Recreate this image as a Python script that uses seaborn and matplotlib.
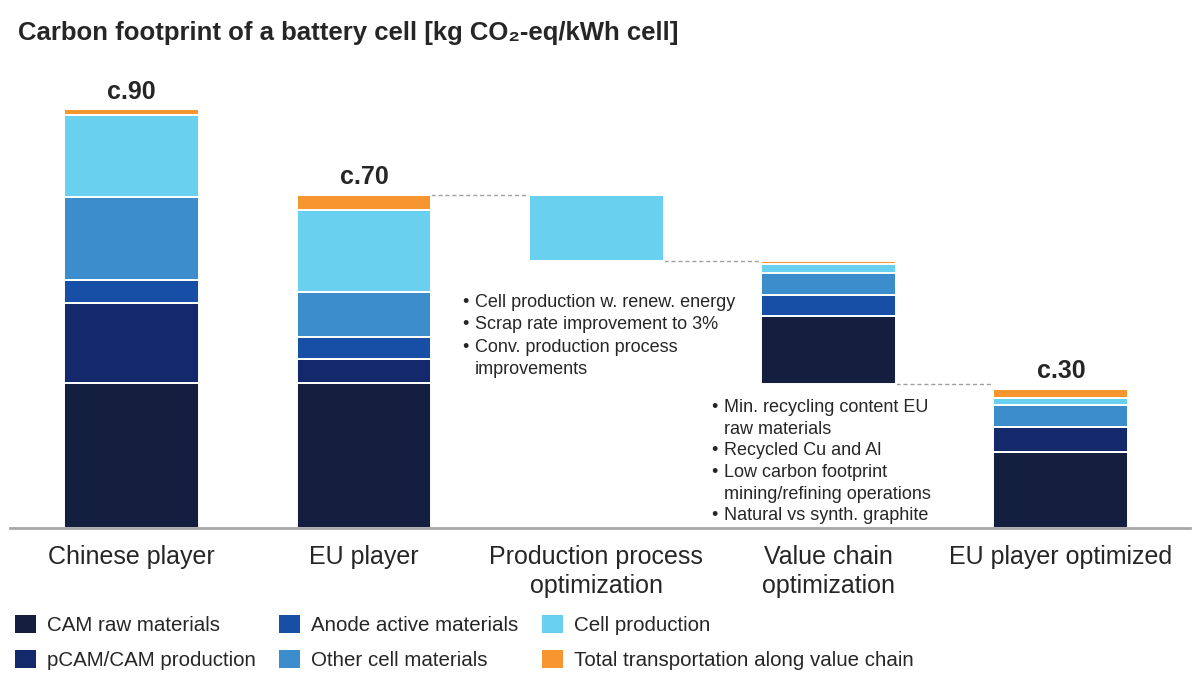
import numpy as np
import pandas as pd
import matplotlib
matplotlib.use("Agg")
import matplotlib.pyplot as plt
from matplotlib.patches import Patch
import seaborn as sns

# data (kg CO2-eq / kWh cell)
categories = ["Chinese player", "EU player", "Production process\noptimization",
              "Value chain\noptimization", "EU player optimized"]
components = ["CAM raw materials", "pCAM/CAM production", "Anode active materials",
              "Other cell materials", "Cell production", "Total transportation along value chain"]
cam_raw = [31.1, 31.1, 0.0, 14.6, 16.3]
pcam = [17.2, 5.1, 0.0, 0.0, 5.4]
anode = [4.9, 4.8, 0.0, 4.5, 0.0]
other = [17.8, 9.7, 0.0, 4.8, 4.8]
cell = [17.6, 17.5, 14.2, 1.8, 1.4]
transport = [1.3, 3.4, 0.0, 0.8, 2.0]
total_labels = ["c.90", "c.70", "", "", "c.30"]

colors = ["#141f40", "#14296c", "#174ea6", "#3b8dcb", "#69d0f0", "#f7962f"]

sns.set_theme(style="white")
plt.rcParams["font.family"] = ["Liberation Sans", "DejaVu Sans"]

series = [cam_raw, pcam, anode, other, cell, transport]
data = np.array(series)
totals = data.sum(axis=0)

# waterfall: the two optimization bars float below the previous level
base = np.zeros(len(categories))
base[2] = totals[1] - totals[2]
base[3] = base[2] - totals[3]

fig = plt.figure(figsize=(12, 6.79), dpi=100)
ax = fig.add_axes([10 / 1200, 0.2224, 1180 / 1200, 0.6857])

bar_w = 0.58
bottom = base.copy()
for name, vals, col in zip(components, series, colors):
    df = pd.DataFrame({"category": categories, "value": vals})
    sns.barplot(data=df, x="category", y="value", order=categories, bottom=bottom,
                color=col, width=bar_w, edgecolor="white", linewidth=1.4,
                saturation=1, ax=ax)
    bottom = bottom + np.array(vals)

tops = base + totals

# dashed connectors between bars
levels = [tops[1], base[2], base[3]]
for i, lvl in zip([1, 2, 3], levels):
    ax.plot([i + bar_w / 2, i + 1 - bar_w / 2], [lvl, lvl], ls=(0, (3, 2)),
            color="#a0a0a0", lw=1.0, zorder=0)

for i, lab in enumerate(total_labels):
    if lab:
        ax.annotate(lab, (i, tops[i]), xytext=(0, 4), textcoords="offset points",
                    ha="center", va="bottom", fontsize=18, fontweight="bold",
                    color="#262626")

ax.set_xlim(-0.524, 4.556)
ax.set_ylim(0, 100)
ax.set_yticks([])
ax.set_ylabel("")
ax.set_xlabel("")
ax.set_xticks(range(len(categories)))
ax.set_xticklabels(categories, fontsize=18, color="#262626", linespacing=1.3)
ax.tick_params(axis="x", length=0, pad=12)
for s in ["top", "right", "left"]:
    ax.spines[s].set_visible(False)
ax.spines["bottom"].set_color("#a8a8a8")
ax.spines["bottom"].set_linewidth(2)

# annotations
note1 = ["Cell production w. renew. energy", "Scrap rate improvement to 3%",
         "Conv. production process", "improvements"]
bul1 = "\u2022\n\u2022\n\u2022\n "
note2 = ["Min. recycling content EU", "raw materials", "Recycled Cu and Al",
         "Low carbon footprint", "mining/refining operations", "Natural vs synth. graphite"]
bul2 = "\u2022\n \n\u2022\n\u2022\n \n\u2022"
kw = dict(fontsize=13, color="#262626", va="top")
fig.text(462 / 1200, 1 - 294 / 679, bul1, linespacing=1.42, **kw)
fig.text(475 / 1200, 1 - 294 / 679, "\n".join(note1), linespacing=1.42, **kw)
fig.text(711 / 1200, 1 - 399 / 679, bul2, linespacing=1.36, **kw)
fig.text(724 / 1200, 1 - 399 / 679, "\n".join(note2), linespacing=1.36, **kw)

fig.text(18 / 1200, 1 - 33 / 679, "Carbon footprint of a battery cell [kg CO\u2082-eq/kWh cell]",
         fontsize=18.5, fontweight="bold", color="#262626", va="center")

handles = [Patch(facecolor=c, edgecolor="none") for c in colors]
fig.legend(handles, components, loc="upper left", bbox_to_anchor=(15 / 1200, 1 - 615 / 679),
           ncol=3, frameon=False, fontsize=14.8, handlelength=1.0, handleheight=1.0,
           handletextpad=0.55, columnspacing=1.15, labelspacing=0.7, borderpad=0,
           borderaxespad=0, labelcolor="#262626")

fig.savefig("out.png", dpi=100)
